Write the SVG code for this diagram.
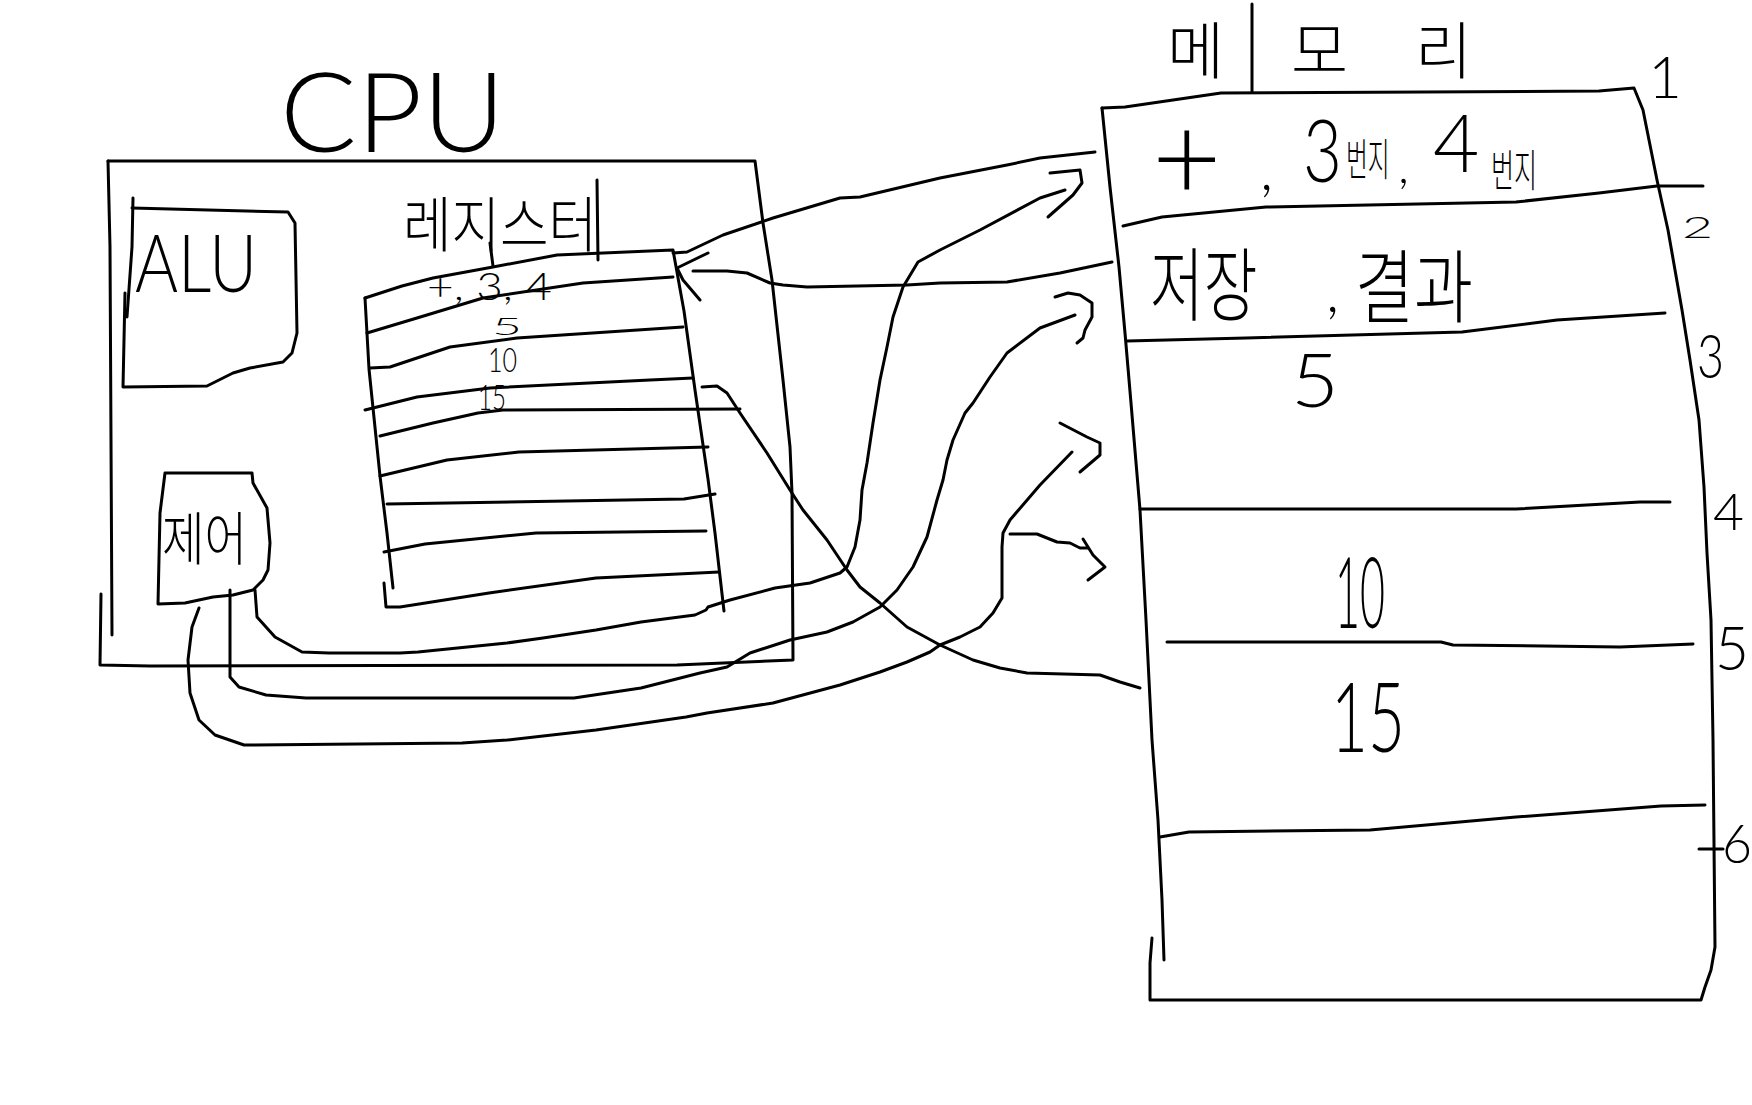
<svg xmlns="http://www.w3.org/2000/svg" width="1752" height="1105" viewBox="0 0 1752 1105">
<style>
.s{fill:none;stroke:#000;stroke-width:3;stroke-linecap:round;stroke-linejoin:round}
.l{font-family:Lato,"Liberation Sans",sans-serif;font-weight:300;fill:#000}
.k{font-family:"Noto Sans CJK KR","Noto Sans",sans-serif;font-weight:300;fill:#000}
</style>
<rect width="1752" height="1105" fill="#fff"/>
<g id="cpu">
<path class="s" d="M108,161 L755,161 L763,223 L772,280 L783,380 L790,447 L792,493 L793,660 L677,665 L150,666 L100,665 L101,594"/>
<path class="s" d="M108,161 L110,247 L112,635"/>
<text class="l" x="280" y="152" font-size="110" textLength="225" lengthAdjust="spacingAndGlyphs">CPU</text>
</g>
<g id="alu">
<path class="s" d="M132,208 L288,212 L295,223 L297,333 L292,353 L283,362 L250,368 L233,373 L213,383 L207,386 L123,387 L125,293"/>
<path class="s" d="M133,198 L132,247 L127,317"/>
<text class="l" x="135" y="292" font-size="80" textLength="122" lengthAdjust="spacingAndGlyphs">ALU</text>
</g>
<g id="control">
<path class="s" d="M165,473 L252,473 L253,483 L267,508 L270,543 L268,570 L263,580 L253,590 L233,595 L213,597 L185,603 L158,604 L160,513 L165,473"/>
<text class="k" x="162" y="560" font-size="58" textLength="85" lengthAdjust="spacingAndGlyphs">제어</text>
</g>
<g id="registers">
<text class="k" x="403" y="247" font-size="60" textLength="194" lengthAdjust="spacingAndGlyphs">레지스터</text>
<path class="s" d="M597,180 L598,260"/>
<path class="s" d="M490,243 L493,266"/>
<path class="s" d="M365,298 L402,286 L433,278 L493,267 L557,255 L673,250 L684,311 L695,390 L708,479 L715,533 L724,611"/>
<path class="s" d="M365,298 L369,369 L380,476 L387,533 L393,588"/>
<path class="s" d="M384,583 L386,607 L400,607 L489,593 L596,578 L719,572"/>
<path class="s" d="M367,333 L417,318 L483,298 L583,283 L673,277"/>
<path class="s" d="M370,368 L390,367 L450,347 L517,338 L683,327"/>
<path class="s" d="M365,410 L417,397 L490,388 L650,380 L693,378"/>
<path class="s" d="M380,436 L433,423 L478,413 L503,410 L740,409"/>
<path class="s" d="M380,476 L447,460 L519,452 L708,447"/>
<path class="s" d="M387,504 L684,499 L715,494"/>
<path class="s" d="M384,552 L425,544 L536,533 L706,531"/>
<text class="l" x="427" y="300" font-size="38" font-weight="400" textLength="125" lengthAdjust="spacingAndGlyphs">+, 3, 4</text>
<text class="l" x="492" y="335" font-size="24" font-weight="400" textLength="30" lengthAdjust="spacingAndGlyphs">5</text>
<text class="l" x="488" y="372" font-size="34" font-weight="400" textLength="29" lengthAdjust="spacingAndGlyphs">10</text>
<text class="l" x="478" y="410" font-size="36" font-weight="400" textLength="28" lengthAdjust="spacingAndGlyphs">15</text>
</g>
<g id="memory">
<text class="k" x="1167" y="74" font-size="62" textLength="305" lengthAdjust="spacing">메모리</text>
<path class="s" d="M1252,4 L1252,92"/>
<path class="s" d="M1102,108 L1125,107 L1221,93 L1599,91 L1634,88 L1643,110 L1657,180 L1668,230 L1682,310 L1690,360 L1699,420 L1704,487 L1707,553 L1711,620 L1713,740 L1715,947 L1711,970 L1705,987 L1701,1000 L1150,1000 L1150,963 L1152,938"/>
<path class="s" d="M1102,108 L1110,187 L1119,267 L1125,333 L1131,403 L1140,510 L1146,620 L1152,740 L1158,820 L1162,900 L1164,960"/>
<path class="s" d="M1123,226 L1162,217 L1266,207 L1516,202 L1599,193 L1657,186 L1703,186"/>
<path class="s" d="M1127,341 L1246,338 L1462,332 L1557,320 L1665,313"/>
<path class="s" d="M1140,509 L1516,509 L1640,502 L1670,502"/>
<path class="s" d="M1167,642 L1441,642 L1453,645 L1620,647 L1693,644"/>
<path class="s" d="M1160,837 L1189,832 L1370,830 L1516,817 L1661,806 L1705,805"/>
<text class="l" x="1152" y="200" font-size="120">+</text>
<text class="l" x="1260" y="190" font-size="60">,</text>
<text class="l" font-size="86" transform="translate(1303,182) scale(0.78,1)">3</text>
<text class="k" font-size="44" transform="translate(1346,176) scale(0.54,1)">번지</text>
<text class="l" x="1398" y="183" font-size="50">,</text>
<text class="l" x="1433" y="172" font-size="80">4</text>
<text class="k" font-size="44" transform="translate(1491,187) scale(0.57,1)">번지</text>
<text class="k" font-size="80" transform="translate(1150,314) scale(0.73,1)">저장</text>
<text class="l" x="1326" y="312" font-size="60">,</text>
<text class="k" font-size="80" transform="translate(1355,316) scale(0.8,1)">결과</text>
<text class="l" x="1291" y="407" font-size="75" textLength="48" lengthAdjust="spacingAndGlyphs">5</text>
<text class="l" x="1335" y="628" font-size="98" textLength="50" lengthAdjust="spacingAndGlyphs">10</text>
<text class="l" x="1331" y="752" font-size="96" textLength="74" lengthAdjust="spacingAndGlyphs">15</text>
<text class="l" x="1665" y="98" font-size="58" text-anchor="middle">1</text>
<text class="l" x="1682" y="238" font-size="30" font-weight="400" textLength="31" lengthAdjust="spacingAndGlyphs">2</text>
<text class="l" x="1697" y="378" font-size="62" textLength="27" lengthAdjust="spacingAndGlyphs">3</text>
<text class="l" x="1713" y="530" font-size="52" textLength="31" lengthAdjust="spacingAndGlyphs">4</text>
<text class="l" x="1715" y="670" font-size="62" textLength="34" lengthAdjust="spacingAndGlyphs">5</text>
<path class="s" d="M1699,849 L1723,849"/>
<text class="l" x="1722" y="863" font-size="53" textLength="30" lengthAdjust="spacingAndGlyphs">6</text>
</g>
<g id="connectors">
<path class="s" d="M673,253 L687,252 L723,235 L773,218 L840,198 L860,197 L940,178 L1007,165 L1040,158 L1095,152"/>
<path class="s" d="M1112,262 L1060,273 L1007,282 L940,283 L907,285 L807,287 L783,285 L770,283 L747,273 L727,271 L693,271"/>
<path class="s" d="M708,253 L677,268 L683,280 L700,300"/>
<path class="s" d="M255,590 L257,617 L275,637 L302,652 L329,653 L400,653 L418,652 L507,643 L543,638 L596,630 L641,622 L695,615 L706,610 L708,607 L730,600 L775,588 L810,583 L840,573 L847,567 L855,547 L860,520 L862,490 L867,463 L873,423 L880,380 L887,347 L893,317 L903,287 L918,262 L940,250 L980,230 L1040,198 L1065,190"/>
<path class="s" d="M1050,173 L1080,170 L1082,183 L1073,195 L1048,217"/>
<path class="s" d="M230,590 L230,677 L239,687 L266,695 L306,698 L574,698 L641,688 L700,673 L727,667 L750,653 L790,640 L827,632 L853,622 L880,607 L897,590 L913,567 L927,537 L937,500 L943,480 L947,460 L953,440 L965,413 L973,403 L990,377 L1007,353 L1040,328 L1075,315"/>
<path class="s" d="M1055,297 L1068,293 L1080,295 L1092,303 L1092,317 L1085,330 L1083,338 L1077,343"/>
<path class="s" d="M199,608 L192,627 L188,660 L190,693 L199,720 L215,735 L244,745 L462,743 L507,740 L596,730 L686,717 L707,713 L773,703 L840,685 L880,672 L907,662 L930,652 L940,645 L960,637 L980,627 L993,613 L1002,598 L1002,547 L1003,533 L1010,520 L1040,485 L1072,452"/>
<path class="s" d="M1060,423 L1087,437 L1100,443 L1100,455 L1080,472"/>
<path class="s" d="M1010,534 L1037,534 L1057,542 L1070,543 L1080,548 L1088,548"/>
<path class="s" d="M1083,539 L1093,555 L1105,567 L1088,580"/>
<path class="s" d="M702,387 L717,386 L727,393 L740,413 L767,453 L790,490 L803,510 L827,540 L847,570 L860,587 L880,603 L907,627 L940,645 L973,660 L1000,668 L1027,673 L1100,675 L1120,682 L1140,688"/>
</g>
</svg>
